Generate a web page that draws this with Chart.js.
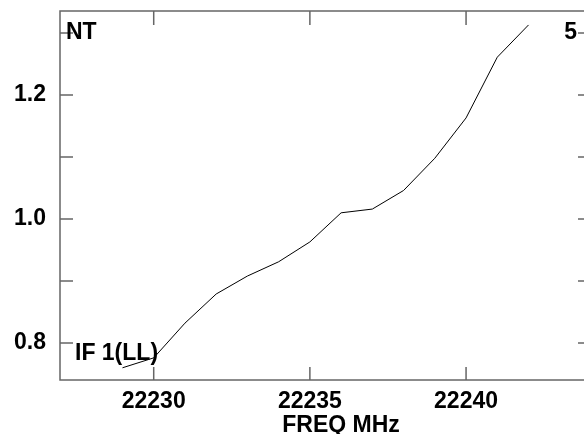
<!DOCTYPE html>
<html>
<head>
<meta charset="utf-8">
<script src="https://cdn.jsdelivr.net/npm/chart.js@4/dist/chart.umd.min.js"></script>
<style>
  html, body { margin:0; padding:0; background:#fff; overflow:hidden; }
  #wrap { width:600px; height:434px; }
</style>
</head>
<body>
<div id="wrap"><canvas id="chart" width="600" height="434"></canvas></div>
<script>
// values
var freqs = [22229, 22230, 22231, 22232, 22233, 22234, 22235, 22236, 22237, 22238, 22239, 22240, 22241, 22242];
var amps  = [0.760, 0.776, 0.832, 0.879, 0.908, 0.931, 0.963, 1.010, 1.016, 1.046, 1.098, 1.163, 1.261, 1.313];

var xLabelTicks = [22230, 22235, 22240];
var yLabelTicks = [0.8, 1.0, 1.2];
var yMinorTicks = [0.8, 0.9, 1.0, 1.1, 1.2, 1.3];

var FAMILY = '"Liberation Sans", Arial, sans-serif';
var FONT = 'bold 23px ' + FAMILY;
var AXIS_COLOR = '#666';

// frame, inward ticks and the text notes
var framePlugin = {
  id: 'frame',
  afterDraw: function(chart){
    var ctx = chart.ctx, a = chart.chartArea;
    var xs = chart.scales.x, ys = chart.scales.y;
    ctx.save();
    ctx.strokeStyle = AXIS_COLOR;
    ctx.lineWidth = 1.5;
    ctx.strokeRect(a.left, a.top, a.right - a.left, a.bottom - a.top);
    ctx.beginPath();
    yMinorTicks.forEach(function(v){
      var y = ys.getPixelForValue(v);
      ctx.moveTo(a.left, y); ctx.lineTo(a.left + 13, y);
      ctx.moveTo(a.right, y); ctx.lineTo(a.right - 13, y);
    });
    xLabelTicks.forEach(function(v){
      var x = xs.getPixelForValue(v);
      ctx.moveTo(x, a.top); ctx.lineTo(x, a.top + 14);
      ctx.moveTo(x, a.bottom); ctx.lineTo(x, a.bottom - 13);
    });
    ctx.stroke();

    ctx.fillStyle = '#000';
    ctx.font = FONT;
    ctx.textBaseline = 'alphabetic';
    ctx.textAlign = 'left';
    ctx.fillText('NT', 66, 39);
    ctx.fillText('IF 1(LL)', 75, 360);
    ctx.textAlign = 'right';
    ctx.fillText('5', 577, 39);
    ctx.textAlign = 'center';
    ctx.fillText('FREQ MHz', 341, 432);
    ctx.restore();
  }
};

new Chart(document.getElementById('chart'), {
  type: 'line',
  data: {
    labels: freqs,
    datasets: [{
      data: freqs.map(function(f, i){ return {x: f, y: amps[i]}; }),
      borderColor: '#000',
      borderWidth: 1,
      pointRadius: 0,
      tension: 0,
      fill: false
    }]
  },
  options: {
    responsive: false,
    animation: false,
    devicePixelRatio: 1,
    layout: { autoPadding: false, padding: { top: 11, right: 9, left: 0, bottom: 0 } },
    plugins: { legend: { display: false }, tooltip: { enabled: false } },
    scales: {
      x: {
        type: 'linear',
        min: 22227,
        max: 22244,
        grid: { display: false, drawTicks: false },
        border: { display: false },
        afterBuildTicks: function(s){ s.ticks = xLabelTicks.map(function(v){ return {value: v}; }); },
        afterFit: function(s){ s.height = 54; s.paddingLeft = 0; s.paddingRight = 0; },
        ticks: {
          color: '#000',
          padding: 8,
          autoSkip: false,
          maxRotation: 0,
          font: { family: FAMILY, size: 23, weight: 'bold' },
          callback: function(v){ return String(v); }
        }
      },
      y: {
        min: 0.7403,
        max: 1.3355,
        grid: { display: false, drawTicks: false },
        border: { display: false },
        afterBuildTicks: function(s){ s.ticks = yLabelTicks.map(function(v){ return {value: v}; }); },
        afterFit: function(s){ s.width = 60; s.paddingTop = 0; s.paddingBottom = 0; },
        ticks: {
          color: '#000',
          padding: 14,
          font: { family: FAMILY, size: 23, weight: 'bold' },
          callback: function(v){ return v.toFixed(1); }
        }
      }
    }
  },
  plugins: [framePlugin]
});
</script>
</body>
</html>
